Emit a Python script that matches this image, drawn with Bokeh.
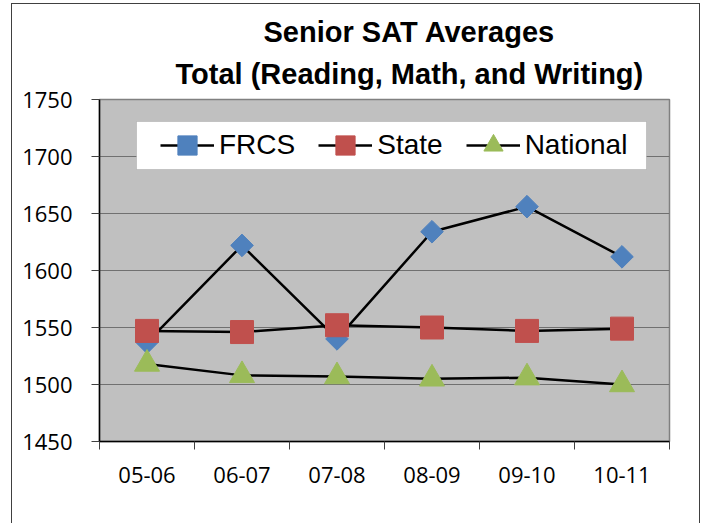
from bokeh.plotting import figure
from bokeh.models import (Range1d, FixedTicker, Legend, LegendItem, Title, BoxAnnotation)
from bokeh.embed import file_html
from bokeh.resources import INLINE
import numpy as np

# ---- data ----
categories = ["05-06", "06-07", "07-08", "08-09", "09-10", "10-11"]
frcs = [1537, 1622, 1540, 1634, 1656, 1612]
state = [1547, 1546, 1552, 1550, 1547, 1549]
national = [1518, 1508, 1507, 1505, 1506, 1500]
y_ticks = [1450, 1500, 1550, 1600, 1650, 1700, 1750]
title_lines = ["Senior SAT Averages", "Total (Reading, Math, and Writing)"]

xs = [2 * i + 1 for i in range(len(categories))]
bounds = [2 * i for i in range(len(categories) + 1)]

p = figure(width=689, height=520, output_backend="svg", toolbar_location=None,
           x_range=Range1d(0, 2 * len(categories)), y_range=Range1d(y_ticks[0], y_ticks[-1]),
           min_border_left=87, min_border_right=32, min_border_top=95, min_border_bottom=83,
           margin=(3, 0, 0, 11))
p.styles = {"border-left": "1px solid #404040", "border-right": "1px solid #404040",
            "border-top": "1px solid #404040"}
p.background_fill_color = "#C0C0C0"
p.border_fill_color = "white"
p.outline_line_color = "#808080"
p.outline_line_width = 1.5

p.xgrid.visible = False
p.ygrid.grid_line_color = "#707070"
p.ygrid.grid_line_width = 1
p.ygrid.ticker = FixedTicker(ticks=y_ticks)

# y axis
p.yaxis.ticker = FixedTicker(ticks=y_ticks)
p.yaxis.major_tick_out = 8
p.yaxis.major_tick_in = 0
p.yaxis.minor_tick_line_color = None
p.yaxis.axis_line_color = "black"
p.yaxis.axis_line_width = 1.5
p.yaxis.major_tick_line_color = "#404040"
p.yaxis.major_label_text_font = "Open Sans"
p.yaxis.major_label_text_font_size = "22px"
p.yaxis.major_label_text_color = "black"
p.yaxis.major_label_standoff = 19

# x axis
p.xaxis.ticker = FixedTicker(ticks=xs, minor_ticks=bounds)
p.xaxis.major_label_overrides = {x: c for x, c in zip(xs, categories)}
p.xaxis.major_tick_out = 0
p.xaxis.major_tick_in = 0
p.xaxis.minor_tick_out = 8
p.xaxis.minor_tick_in = 0
p.xaxis.minor_tick_line_color = "#404040"
p.xaxis.axis_line_color = "black"
p.xaxis.axis_line_width = 1.5
p.xaxis.major_label_text_font = "Open Sans"
p.xaxis.major_label_text_font_size = "22px"
p.xaxis.major_label_text_color = "black"
p.xaxis.major_label_standoff = 17

# series
lw = 2.5
l1 = p.line(xs, frcs, line_color="black", line_width=lw)
l2 = p.line(xs, state, line_color="black", line_width=lw)
l3 = p.line(xs, national, line_color="black", line_width=lw)
s1 = p.scatter(xs, frcs, marker="square", angle=np.pi / 4, size=16,
               fill_color="#4F81BD", line_color="#4F81BD")
s2 = p.scatter(xs, state, marker="square", size=23,
               fill_color="#C0504D", line_color="#C0504D")
s3 = p.scatter(xs, national, marker="triangle", size=25,
               fill_color="#9BBB59", line_color="#9BBB59")

# legend box (canvas coords)
box = BoxAnnotation(left=123, right=633, top=116, bottom=164,
                    left_units="canvas", right_units="canvas",
                    top_units="canvas", bottom_units="canvas",
                    fill_color="white", fill_alpha=1.0,
                    line_color="#808080", line_width=1)
p.add_layout(box)

legend = Legend(items=[LegendItem(label="FRCS", renderers=[l1, s1]),
                       LegendItem(label="State", renderers=[l2, s2]),
                       LegendItem(label="National", renderers=[l3, s3])],
                orientation="horizontal", location=(61, 272),
                padding=0, margin=0, spacing=23, glyph_width=54, glyph_height=48,
                label_standoff=5, label_text_font="Liberation Sans",
                label_text_font_size="28px", label_text_color="black",
                background_fill_alpha=0, border_line_alpha=0)
p.add_layout(legend, "center")

# title (two lines; later-added is farther from the frame)
p.add_layout(Title(text=title_lines[1], align="left", offset=76, standoff=19,
                   text_font="Liberation Sans", text_font_style="bold",
                   text_font_size="29px", text_color="black"), "above")
p.add_layout(Title(text=title_lines[0], align="left", offset=164, standoff=-3,
                   text_font="Liberation Sans", text_font_style="bold",
                   text_font_size="29px", text_color="black"), "above")

open("out.html", "w").write(file_html(p, INLINE))
